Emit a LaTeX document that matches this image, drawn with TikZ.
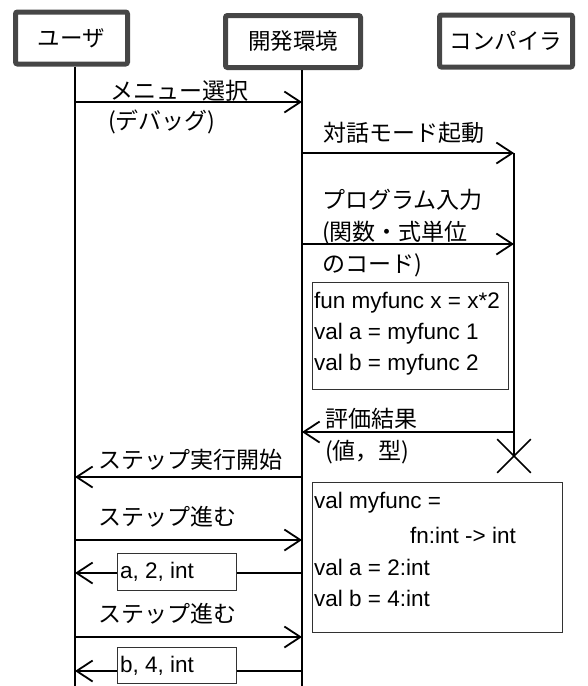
\documentclass[tikz,border=0pt]{standalone}
\usepackage{fontspec}
\setmainfont{Liberation Sans}
\newfontfamily\jp{Noto Sans CJK JP}
\usetikzlibrary{arrows.meta,shapes.misc}
\definecolor{hdr}{RGB}{70,70,70}
\definecolor{boxc}{RGB}{50,50,50}
\begin{document}
\begin{tikzpicture}[x=1pt,y=-1pt,
  actor/.style={draw=hdr, line width=5pt, rounded corners=2pt, minimum height=52pt, inner sep=0pt, font=\jp\fontsize{22.5}{26}\selectfont},
  lifeline/.style={line width=1.8pt},
  msg/.style={line width=1.8pt, -{Straight Barb[length=16pt,width=21pt]}},
  jlabel/.style={anchor=west, inner sep=0pt, font=\jp\fontsize{23}{28}\selectfont},
  codetext/.style={anchor=west, inner sep=0pt, font=\fontsize{22.5}{26}\selectfont},
  cbox/.style={draw=boxc, line width=1pt, fill=white, inner sep=0pt},
  endmark/.style={draw, cross out, line width=1.6pt, minimum size=32pt, inner sep=0pt}]
\useasboundingbox (0,0) rectangle (587,686);

% participants
\node[actor, minimum width=112pt] (user) at (71.5,38) {ユーザ};
\node[actor, minimum width=135pt] (dev) at (293,41.5) {開発環境};
\node[actor, minimum width=133pt] (comp) at (506,41) {コンパイラ};

% lifeline coordinates
\coordinate (ubot) at (75,686);
\coordinate (dbot) at (302,686);
\coordinate (ctop) at (514,153);
\node[endmark] (cend) at (514,456) {};

\draw[lifeline] (ubot |- user.south) -- (ubot);
\draw[lifeline] (dbot |- dev.south) -- (dbot);
\draw[lifeline] (ctop) -- (cend.center);

% message end points
\foreach \n/\y in {1/102,2/153,3/244,4/432,5/477,6/540,7/573,8/637,9/671}{
  \coordinate (u\n) at (75,\y);
  \coordinate (d\n) at (302,\y);
  \coordinate (c\n) at (514,\y);
}

% messages
\draw[msg] (u1) -- (d1);
\node[jlabel] (l1a) at (110,91) {メニュー選択};
\node[jlabel] (l1b) at (108,122) {(デバッグ)};

\draw[msg] (d2) -- (c2);
\node[jlabel] (l2) at (323,133) {対話モード起動};

\draw[msg] (d3) -- (c3);
\node[jlabel] (l3a) at (322,200) {プログラム入力};
\node[jlabel] (l3b) at (322,233) {(関数・式単位};
\node[jlabel] (l3c) at (322,265) {のコード)};

\node[cbox, minimum width=196pt, minimum height=107pt] (code1) at (410,335.5) {};
\node[codetext] (f1) at (314,303) {fun myfunc x = x*2};
\node[codetext] (f2) at (314,334) {val a = myfunc 1};
\node[codetext] (f3) at (314,365) {val b = myfunc 2};

\draw[msg] (c4) -- (d4);
\node[jlabel] (l4a) at (325,419) {評価結果};
\node[jlabel] (l4b) at (325,452) {(値，型)};

\draw[msg] (d5) -- (u5);
\node[jlabel] (l5) at (98,460) {ステップ実行開始};

\node[cbox, minimum width=250pt, minimum height=150pt] (code2) at (437,557) {};
\node[codetext] (r1) at (314,503) {val myfunc =};
\node[codetext] (r2) at (410,535) {fn:int -> int};
\node[codetext] (r3) at (314,567) {val a = 2:int};
\node[codetext] (r4) at (314,598) {val b = 4:int};

\draw[msg] (u6) -- (d6);
\node[jlabel] (l6) at (98,517) {ステップ進む};

\draw[msg] (d7) -- (u7);
\node[cbox, minimum width=119pt, minimum height=37pt] (ra) at (176.5,571.5) {};
\node[codetext] (ta) at (120,572) {a, 2, int};

\draw[msg] (u8) -- (d8);
\node[jlabel] (l8) at (98,614) {ステップ進む};

\draw[msg] (d9) -- (u9);
\node[cbox, minimum width=119pt, minimum height=36pt] (rb) at (176.5,665) {};
\node[codetext] (tb) at (120,666) {b, 4, int};
\end{tikzpicture}
\end{document}
